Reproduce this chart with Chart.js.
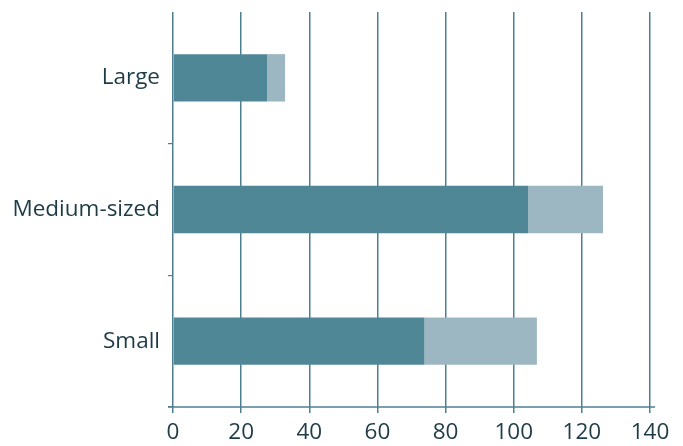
<!DOCTYPE html>
<html>
<head>
<meta charset="utf-8">
<script src="https://cdn.jsdelivr.net/npm/chart.js@4/dist/chart.umd.min.js"></script>
<style>
  html, body { margin: 0; padding: 0; background: #fff; }
  #wrap { width: 683px; height: 446px; }
</style>
</head>
<body>
<div id="wrap"><canvas id="c"></canvas></div>
<script>
// ── Data ────────────────────────────────────────────────────────────────────
const categories = ['Large', 'Medium-sized', 'Small'];
const darkValues  = [27.6, 104.2, 73.8];
const lightValues = [5.3, 22.0, 33.0];
const xTicks = [0, 20, 40, 60, 80, 100, 120, 140];

const AXIS = '#4d7f90';
const TEXT = '#1e3c48';
const FONT = "'Open Sans', sans-serif";

// extend the x axis line a bit past both ends, like the reference
const axisLine = {
  id: 'axisLine',
  afterDraw(chart) {
    const { ctx, chartArea } = chart;
    const y = chart.scales.x.top;
    ctx.save();
    ctx.strokeStyle = AXIS;
    ctx.lineWidth = 1.5;
    ctx.beginPath();
    ctx.moveTo(chartArea.left - 5, y);
    ctx.lineTo(chartArea.right + 5, y);
    ctx.stroke();
    ctx.restore();
  }
};

new Chart(document.getElementById('c'), {
  type: 'bar',
  data: {
    labels: categories,
    datasets: [
      { data: darkValues,  backgroundColor: '#4f8796', barPercentage: 0.36, categoryPercentage: 1 },
      { data: lightValues, backgroundColor: '#9db7c2', barPercentage: 0.36, categoryPercentage: 1 }
    ]
  },
  options: {
    indexAxis: 'y',
    responsive: true,
    maintainAspectRatio: false,
    animation: false,
    layout: { padding: { top: 12, right: 33, left: 0, bottom: 0 } },
    plugins: { legend: { display: false }, tooltip: { enabled: false } },
    scales: {
      x: {
        stacked: true,
        min: 0, max: 140,
        afterBuildTicks: s => { s.ticks = xTicks.map(v => ({ value: v })); },
        afterFit: s => { s.height = 39; s.paddingLeft = 0; s.paddingRight = 0; },
        grid: { color: AXIS, lineWidth: 1.5, tickLength: 6 },
        border: { display: false },
        ticks: { color: TEXT, font: { family: FONT, size: 22.5 }, padding: 6, maxRotation: 0 }
      },
      y: {
        stacked: true,
        afterFit: s => { s.width = 173; s.paddingTop = 0; s.paddingBottom = 0; },
        grid: {
          color: c => c.index === 0 ? 'rgba(0,0,0,0)' : AXIS,
          lineWidth: 1.2, drawOnChartArea: false, tickLength: 5, offset: true
        },
        border: { display: false },
        ticks: { color: TEXT, font: { family: FONT, size: 22.5 }, padding: 8 }
      }
    }
  },
  plugins: [axisLine]
});
</script>
</body>
</html>
